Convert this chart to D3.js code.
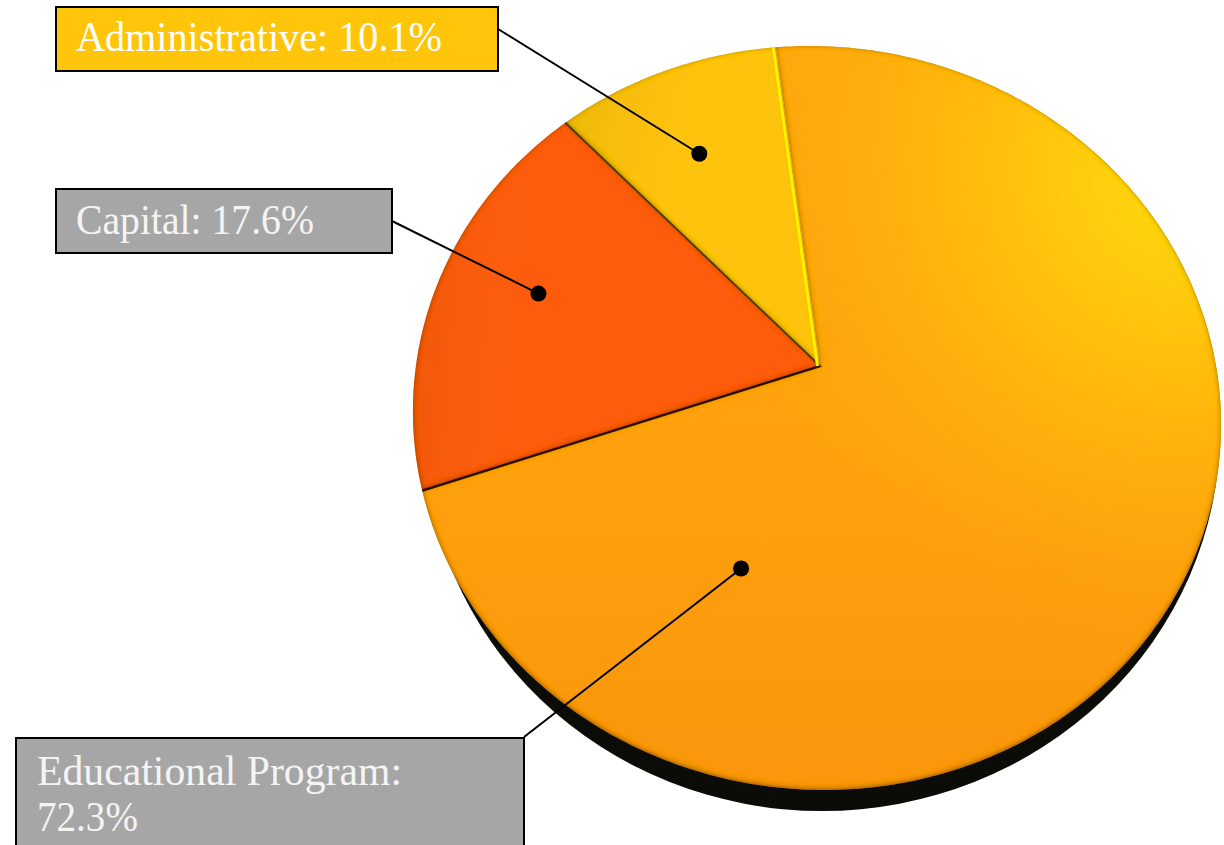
<!DOCTYPE html>
<html>
<head>
<meta charset="utf-8">
<script src="https://cdn.jsdelivr.net/npm/d3@7"></script>
<style>
html,body{margin:0;padding:0;background:#fff;overflow:hidden}
svg{display:block}
text{font-family:"Liberation Serif",serif}
</style>
</head>
<body>
<svg id="c" width="1224" height="845"></svg>
<script>
const categories = ["Educational Program", "Capital", "Administrative"];
const values = [72.3, 17.6, 10.1];
const labelLines = [["Educational Program:", "72.3%"], ["Capital: 17.6%"], ["Administrative: 10.1%"]];

// layout
const cx = 817, cy = 418, rx = 404, ry = 372, shear = 0.02;
const apex = [820, 366];
const persp = [0.05, -0.14];
const startDeg = -8.6;
const boxes = [
  {x:16, y:738, w:508, h:130, fill:"#a6a6a6", tc:"#f4f4f4", tx:37, ty:[785,831], tl:[365,101], anchor:[524,737], dot:{a:-155.8,r:0.56}},
  {x:56, y:189, w:336, h:64, fill:"#a6a6a6", tc:"#f4f4f4", tx:76, ty:[234], tl:[238], anchor:[392,221], dot:{a:-75.2,r:0.76}},
  {x:56, y:7, w:442, h:64, fill:"#ffc50b", tc:"#ffffff", tx:76, ty:[51], tl:[366], anchor:[498,29], dot:{a:-29.6,r:0.715}}
];

const svg = d3.select("#c");
const defs = svg.append("defs");

function lg(id, x1, y1, x2, y2, stops) {
  const g = defs.append("linearGradient").attr("id", id).attr("gradientUnits", "userSpaceOnUse")
    .attr("x1", x1).attr("y1", y1).attr("x2", x2).attr("y2", y2);
  stops.forEach(s => g.append("stop").attr("offset", s[0]).attr("stop-color", s[1]));
}
lg("g0", 820, 60, 820, 790, [[0, "#ffa70c"], [0.55, "#ffa10a"], [1, "#f99608"]]);
lg("g1", 415, 300, 540, 310, [[0, "#f2590d"], [0.5, "#fa5b0a"], [1, "#fe5c07"]]);
lg("g2", 565, 100, 690, 130, [[0, "#ecb910"], [0.7, "#fcc00b"], [1, "#fec40a"]]);

const rg = defs.append("radialGradient").attr("id", "glow").attr("gradientUnits", "userSpaceOnUse")
  .attr("cx", 1190).attr("cy", 170).attr("r", 470);
[[0, "#ffdc0c", 1], [0.3, "#ffc90e", 0.95], [0.7, "#ffb40d", 0.55], [1, "#ffa70c", 0]].forEach(s =>
  rg.append("stop").attr("offset", s[0]).attr("stop-color", s[1]).attr("stop-opacity", s[2]));

const f = defs.append("filter").attr("id", "bevel").attr("filterUnits", "userSpaceOnUse")
  .attr("x", 380).attr("y", 20).attr("width", 844).attr("height", 810);
f.append("feFlood").attr("flood-color", "#3a1c00").attr("flood-opacity", 0.85).attr("result", "fl");
f.append("feComposite").attr("in", "fl").attr("in2", "SourceAlpha").attr("operator", "out").attr("result", "inv");
f.append("feOffset").attr("in", "inv").attr("dx", 0).attr("dy", -1.5).attr("result", "off");
f.append("feGaussianBlur").attr("in", "off").attr("stdDeviation", 2.4).attr("result", "bl");
f.append("feComposite").attr("in", "bl").attr("in2", "SourceAlpha").attr("operator", "in").attr("result", "inner");
const fm = f.append("feMerge");
fm.append("feMergeNode").attr("in", "SourceGraphic");
fm.append("feMergeNode").attr("in", "inner");

defs.append("filter").attr("id", "soft").append("feGaussianBlur").attr("stdDeviation", 0.7);
defs.append("clipPath").attr("id", "lower").append("rect")
  .attr("x", 380).attr("y", 430).attr("width", 844).attr("height", 415);

// perspective: unit disc -> slightly sheared ellipse
const p = persp;
const p2 = p[0] * p[0] + p[1] * p[1];
const sq = Math.sqrt(1 - p2);
function project(angle, r) {
  const u = [r * Math.sin(angle), -r * Math.cos(angle)];
  const dot = u[0] * p[0] + u[1] * p[1];
  const par = [p[0] * dot / p2, p[1] * dot / p2];
  const perp = [u[0] - par[0], u[1] - par[1]];
  const d = 1 + dot;
  const Y = cy + ry * (par[1] + p[1] + perp[1] * sq) / d;
  const X = cx + rx * (par[0] + p[0] + perp[0] * sq) / d + shear * (Y - cy);
  return [X, Y];
}

const a0 = startDeg * Math.PI / 180;
const arcs = d3.pie().sort(null).startAngle(a0).endAngle(a0 + 2 * Math.PI)(values);
const line = d3.line();

function slicePath(d) {
  const n = Math.max(8, Math.round((d.endAngle - d.startAngle) * 90));
  const pts = d3.range(n + 1).map(i => project(d.startAngle + (d.endAngle - d.startAngle) * i / n, 1));
  return line([apex, ...pts]) + "Z";
}

// base
svg.append("ellipse").attr("cx", 822).attr("cy", 430).attr("rx", 398).attr("ry", 381)
  .attr("fill", "#0b0b08").attr("clip-path", "url(#lower)");

// slices
const sl = svg.append("g").selectAll("g").data(arcs).join("g").attr("filter", "url(#bevel)");
sl.append("path").attr("d", slicePath).attr("fill", (d, i) => `url(#g${i})`);
sl.filter((d, i) => i === 0).append("path").attr("d", slicePath).attr("fill", "url(#glow)");

// seams
const seams = [
  {a: arcs[0].endAngle, c: "#4a3208", w: 1.4, dx: 1.5},
  {a: arcs[1].startAngle, c: "#2a0f00", w: 2.2, dx: 0},
  {a: arcs[1].endAngle, c: "#4a3c08", w: 1.8, dx: 0},
  {a: arcs[2].endAngle, c: "#fff200", w: 3, dx: -2.5}
];
svg.append("g").selectAll("path").data(seams).join("path")
  .attr("d", d => line([apex, project(d.a, 1)]))
  .attr("transform", d => `translate(${d.dx},0)`)
  .attr("stroke", d => d.c).attr("stroke-width", d => d.w).attr("fill", "none")
  .attr("filter", "url(#soft)");

// callouts
const dots = boxes.map(b => project(b.dot.a * Math.PI / 180, b.dot.r));
svg.append("g").selectAll("line").data(boxes).join("line")
  .attr("x1", d => d.anchor[0]).attr("y1", d => d.anchor[1])
  .attr("x2", (d, i) => dots[i][0]).attr("y2", (d, i) => dots[i][1])
  .attr("stroke", "#000").attr("stroke-width", 2);
svg.append("g").selectAll("circle").data(dots).join("circle")
  .attr("cx", d => d[0]).attr("cy", d => d[1]).attr("r", 8).attr("fill", "#000");

const box = svg.append("g").selectAll("g").data(boxes).join("g");
box.append("rect")
  .attr("x", d => d.x).attr("y", d => d.y).attr("width", d => d.w).attr("height", d => d.h)
  .attr("fill", d => d.fill).attr("stroke", "#000").attr("stroke-width", 2);
box.each(function(b, i) {
  d3.select(this).selectAll("text").data(labelLines[i]).join("text")
    .attr("x", b.tx).attr("y", (d, j) => b.ty[j])
    .attr("textLength", (d, j) => b.tl[j]).attr("lengthAdjust", "spacingAndGlyphs")
    .attr("font-size", 42).attr("fill", b.tc).text(d => d);
});
</script>
</body>
</html>
